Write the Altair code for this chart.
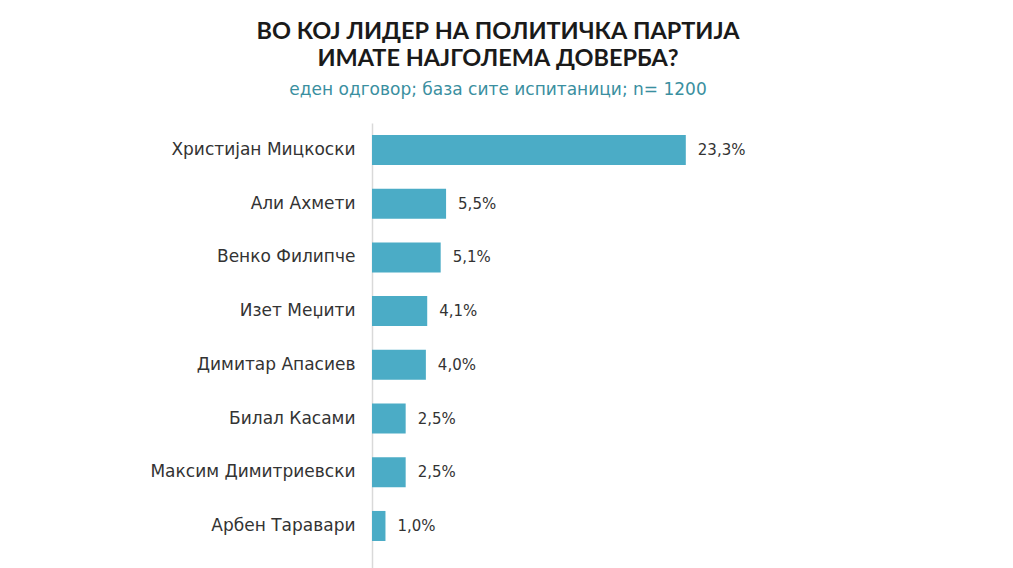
import altair as alt
import pandas as pd

leaders = ["Христијан Мицкоски", "Али Ахмети", "Венко Филипче", "Изет Меџити",
           "Димитар Апасиев", "Билал Касами", "Максим Димитриевски", "Арбен Таравари"]
values = [23.3, 5.5, 5.1, 4.1, 4.0, 2.5, 2.5, 1.0]
title_lines = ["ВО КОЈ ЛИДЕР НА ПОЛИТИЧКА ПАРТИЈА", "ИМАТЕ НАЈГОЛЕМА ДОВЕРБА?"]
subtitle = "еден одговор; база сите испитаници; n= 1200"

df = pd.DataFrame({"leader": leaders, "value": values})
df["label"] = [f"{v:.1f}".replace(".", ",") + "%" for v in values]

FONT = "DejaVu Sans"
W, H = 400, 452

y = alt.Y("leader:N", sort=leaders, title=None,
          scale=alt.Scale(paddingInner=0.441, paddingOuter=0.428, align=0.26),
          axis=alt.Axis(domain=True, domainColor="#D9D9D9", domainWidth=1.5,
                        ticks=False, grid=False, labelFontSize=17,
                        labelColor="#333333", labelFont=FONT, labelPadding=17,
                        labelLimit=400))
x = alt.X("value:Q", title=None, scale=alt.Scale(domain=[0, 29.7]), axis=None)

bars = alt.Chart(df).mark_bar(color="#4BACC6").encode(x=x, y=y)
text = alt.Chart(df).mark_text(align="left", dx=12, fontSize=15, font=FONT,
                               color="#333333").encode(x=x, y=y, text="label:N")

chart = (bars + text).properties(
    width=W, height=H,
    background="white",
    autosize=alt.AutoSizeParams(type="none"),
    padding={"left": 372, "top": 123, "right": 0, "bottom": 0},
    title=alt.TitleParams(
        text=title_lines, subtitle=subtitle, anchor="middle", frame="group",
        dx=-74, offset=25, font="Lato", fontSize=23.5, fontWeight="bold",
        color="#1A1A1A", lineHeight=27, subtitleFont=FONT, subtitleFontSize=17,
        subtitleColor="#3A8FA0", subtitlePadding=12),
).configure_view(strokeWidth=0).configure_axis(grid=False)

chart.save("out.html", embed_options={"renderer": "svg", "actions": False})
